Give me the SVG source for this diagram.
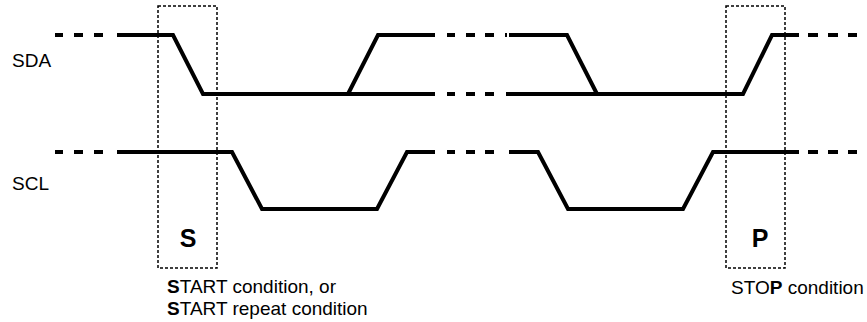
<svg xmlns="http://www.w3.org/2000/svg" width="867" height="322" viewBox="0 0 867 322">
<style>
.sig{fill:none;stroke:#000;stroke-width:4;stroke-linejoin:miter;stroke-linecap:butt}
.box{fill:none;stroke:#000;stroke-width:1.5;stroke-dasharray:3,2}
text{font-family:"Liberation Sans",Arial,sans-serif;fill:#000}
.lbl{font-size:19px}
.big{font-size:25px;font-weight:bold}
</style>
<rect width="867" height="322" fill="#fff"/>
<g id="SDA">
<text class="lbl" x="12" y="67">SDA</text>
<path class="sig" d="M55 35H63M74 35H83M94 35H103"/>
<path class="sig" d="M117 35H173L203 94H435"/>
<path class="sig" d="M348 94L378 35H435"/>
<path class="sig" d="M447 35H455M466 35H475M485 35H494M505 35H507"/>
<path class="sig" d="M447 94H455M466 94H475M485 94H494"/>
<path class="sig" d="M509 35H567L597 94"/>
<path class="sig" d="M506 94H743L772 35H799"/>
<path class="sig" d="M808 35H818M828 35H838M848 35H857"/>
</g>
<g id="SCL">
<text class="lbl" x="12" y="190">SCL</text>
<path class="sig" d="M55 152H63M74 152H83M94 152H103"/>
<path class="sig" d="M117 152H232L262 209H377L407 152H435"/>
<path class="sig" d="M447 152H455M466 152H475M485 152H494"/>
<path class="sig" d="M509 152H538L568 209H683L713 152H799"/>
<path class="sig" d="M808 152H818M828 152H838M848 152H857"/>
</g>
<g id="start">
<rect class="box" x="158" y="6" width="59" height="262"/>
<text class="big" x="188" y="247" text-anchor="middle">S</text>
<text class="lbl" x="167" y="293"><tspan font-weight="bold">S</tspan>TART condition, or</text>
<text class="lbl" x="167" y="315"><tspan font-weight="bold">S</tspan>TART repeat condition</text>
</g>
<g id="stop">
<rect class="box" x="726" y="6" width="59" height="262"/>
<text class="big" x="760" y="247" text-anchor="middle">P</text>
<text class="lbl" x="731" y="294">STO<tspan font-weight="bold">P</tspan> condition</text>
</g>
</svg>
